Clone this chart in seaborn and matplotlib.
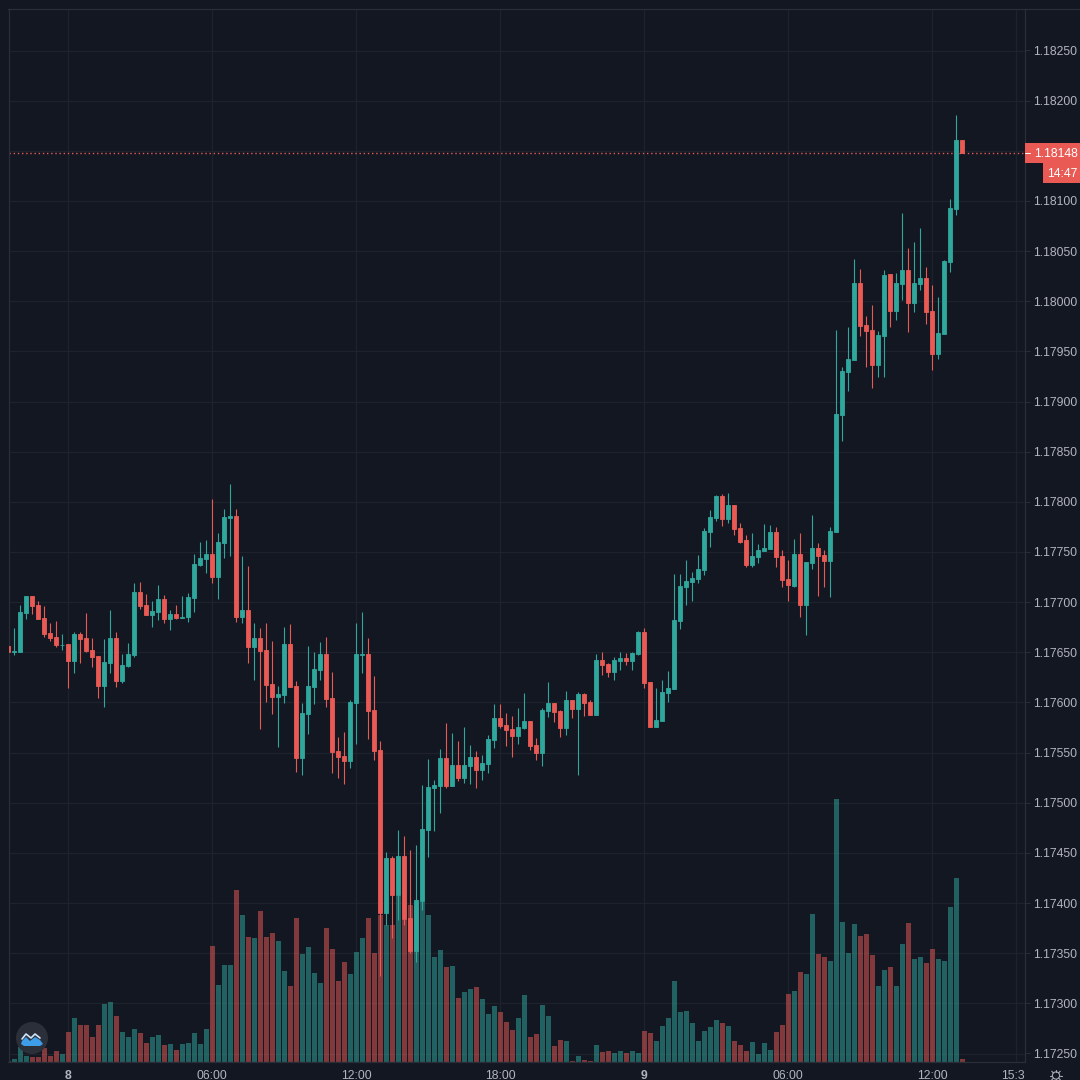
import numpy as np
import pandas as pd
import seaborn as sns
import matplotlib
matplotlib.use("Agg")
import matplotlib.pyplot as plt
from matplotlib.patches import Rectangle, Circle, Polygon
from matplotlib.transforms import blended_transform_factory, Bbox

# prices in 1e-5 units (pipettes), 15-minute candles, index 0 = day 8 00:00
first_candle = -10
opens = [
 117656,117650,117650,117689,117706,117697,117684,117669,117665,117657,
 117658,117641,117668,117664,117652,117646,117616,117639,117664,117621,
 117636,117647,117710,117697,117687,117690,117703,117683,117688,117684,
 117685,117704,117737,117743,117748,117725,117759,117784,117786,117685,
 117692,117655,117664,117652,117618,117605,117607,117658,117616,117545,
 117588,117615,117632,117648,117604,117552,117547,117542,117599,117647,
 117648,117592,117553,117390,117445,117408,117447,117385,117352,117402,
 117473,117515,117517,117545,117517,117538,117525,117537,117546,117533,
 117539,117563,117584,117578,117574,117567,117575,117582,117558,117550,
 117591,117599,117591,117575,117602,117593,117608,117600,117587,117642,
 117638,117630,117641,117644,117641,117648,117670,117620,117576,117582,
 117609,117613,117681,117715,117720,117723,117732,117770,117784,117806,
 117783,117797,117774,117762,117737,117745,117751,117753,117770,117746,
 117723,117716,117748,117697,117739,117754,117747,117741,117770,117887,
 117929,117941,118018,117976,117971,117936,117965,118027,117990,118017,
 118031,117998,118017,118023,117990,117947,117967,118039,118092,118161]
closes = [
 117650,117651,117690,117706,117696,117683,117668,117664,117657,117657,
 117641,117668,117663,117651,117645,117616,117640,117664,117621,117637,
 117648,117710,117696,117687,117691,117703,117683,117688,117684,117685,
 117705,117738,117744,117748,117725,117760,117785,117786,117685,117692,
 117655,117664,117651,117617,117605,117608,117658,117615,117545,117589,
 117616,117633,117648,117603,117551,117546,117542,117600,117648,117648,
 117591,117552,117390,117445,117408,117447,117384,117352,117403,117474,
 117516,117518,117545,117517,117538,117525,117538,117546,117533,117540,
 117564,117584,117577,117573,117567,117576,117582,117557,117550,117592,
 117599,117590,117575,117602,117593,117608,117599,117587,117642,117637,
 117630,117642,117644,117641,117649,117670,117619,117576,117583,117610,
 117614,117682,117716,117721,117724,117733,117771,117785,117806,117783,
 117797,117773,117760,117737,117746,117752,117754,117770,117745,117722,
 117717,117748,117697,117740,117754,117746,117741,117771,117888,117930,
 117942,118018,117975,117970,117936,117966,118026,117990,118018,118031,
 117998,118018,118023,117989,117947,117968,118040,118093,118161,118148]
highs = [
 117656,117674,117697,117706,117706,117701,117696,117679,117681,117668,
 117658,117670,117670,117689,117664,117646,117663,117692,117670,117648,
 117659,117719,117720,117708,117701,117717,117707,117692,117697,117706,
 117709,117748,117760,117762,117803,117769,117793,117818,117793,117746,
 117736,117679,117674,117679,117661,117616,117675,117678,117621,117599,
 117656,117650,117660,117665,117630,117566,117571,117602,117679,117690,
 117664,117626,117562,117451,117447,117473,117467,117453,117458,117518,
 117544,117523,117554,117580,117570,117562,117576,117558,117552,117548,
 117568,117598,117598,117589,117586,117594,117609,117582,117565,117594,
 117620,117599,117592,117611,117602,117610,117609,117602,117648,117650,
 117639,117645,117650,117649,117650,117671,117674,117620,117614,117622,
 117631,117728,117728,117742,117730,117747,117774,117792,117807,117808,
 117809,117797,117779,117767,117769,117758,117778,117777,117775,117752,
 117742,117763,117769,117740,117787,117759,117752,117775,117971,117934,
 117974,118042,118032,117985,117996,117970,118031,118027,118028,118088,
 118053,118059,118073,118034,118016,118004,118041,118102,118186,118161]
lows = [
 117650,117647,117650,117683,117688,117683,117665,117661,117655,117652,
 117614,117629,117639,117650,117635,117604,117595,117629,117615,117619,
 117635,117645,117693,117687,117675,117682,117679,117672,117683,117684,
 117680,117690,117736,117729,117719,117703,117744,117746,117680,117679,
 117639,117622,117574,117600,117588,117556,117599,117615,117531,117528,
 117569,117598,117622,117595,117530,117525,117519,117535,117559,117629,
 117564,117543,117327,117378,117365,117383,117378,117350,117341,117393,
 117446,117472,117490,117515,117517,117522,117520,117519,117515,117523,
 117530,117555,117575,117557,117546,117559,117574,117553,117543,117537,
 117585,117581,117566,117568,117584,117528,117586,117587,117587,117627,
 117625,117622,117632,117637,117632,117647,117614,117576,117576,117582,
 117600,117613,117673,117697,117701,117719,117727,117755,117781,117776,
 117779,117767,117759,117735,117735,117739,117751,117753,117735,117715,
 117701,117715,117685,117667,117733,117706,117715,117705,117770,117861,
 117911,117941,117965,117934,117914,117924,117924,117974,117981,118001,
 117969,117989,118011,117977,117931,117942,117967,118029,118086,118148]
volumes = [
 1,3,15,6,5,5,14,6,11,8,
 30,44,37,37,25,37,58,60,46,30,
 25,33,29,19,25,27,17,18,12,18,
 19,29,18,33,116,77,97,97,172,147,
 125,124,151,125,129,121,91,76,144,108,
 115,89,79,134,113,81,100,88,110,124,
 144,109,147,137,137,166,142,157,155,160,
 147,105,112,95,96,64,70,73,75,63,
 48,56,50,40,32,44,67,25,28,57,
 46,16,22,21,1,6,2,1,17,10,
 11,9,11,9,11,9,31,29,21,36,
 44,81,50,51,39,21,31,35,42,39,
 36,21,17,11,20,8,19,12,30,37,
 68,71,90,88,148,108,105,101,263,140,
 109,138,126,128,107,76,92,95,76,118,
 139,103,105,99,113,103,101,155,184,3]

price_ticks = [1.1725, 1.1730, 1.1735, 1.1740, 1.1745, 1.1750, 1.1755, 1.1760, 1.1765,
               1.1770, 1.1775, 1.1780, 1.1785, 1.1790, 1.1795, 1.1800, 1.1805, 1.1810,
               1.1815, 1.1820, 1.1825]
time_ticks = [0, 24, 48, 72, 96, 120, 144, 158]
time_labels = ['8', '06:00', '12:00', '18:00', '9', '06:00', '12:00', '15:30']
bold_labels = ['8', '9']
clipped_label = '15:30'
last_price = 1.18148
countdown = '14:47'

BG = '#131722'
GRID = '#1e222d'
BORDER = '#2a2e39'
UP = '#2fa79c'
DOWN = '#ea5a55'
TXT = '#b2b5be'
W, H = 1080, 1080
AX_L, AX_R, AX_T, AX_B = 8.5, 1025.0, 9.0, 1061.5

sns.set_theme(style='darkgrid', rc={
    'figure.facecolor': BG, 'axes.facecolor': BG, 'grid.color': GRID,
    'axes.edgecolor': BORDER, 'text.color': TXT, 'xtick.color': TXT, 'ytick.color': TXT})
plt.rcParams['font.family'] = ['Liberation Sans', 'DejaVu Sans']

df = pd.DataFrame({
    'candle': np.arange(first_candle, first_candle + len(opens)),
    'open': np.array(opens) / 1e5, 'high': np.array(highs) / 1e5,
    'low': np.array(lows) / 1e5, 'close': np.array(closes) / 1e5,
    'volume': volumes})
df['side'] = np.where(df['close'] >= df['open'], 'up', 'down')
df['colour'] = df['side'].map({'up': UP, 'down': DOWN})

fig = plt.figure(figsize=(W / 100, H / 100), dpi=100, facecolor=BG)
rect = [AX_L / W, 1 - AX_B / H, (AX_R - AX_L) / W, (AX_B - AX_T) / H]

# volume pane underneath
axv = fig.add_axes(rect, zorder=1)
axv.set_facecolor(BG)
xlim = (first_candle + 0.03, first_candle + (AX_R - AX_L) / 6 + 0.03)
sns.barplot(data=df, x='candle', y='volume', hue='side', hue_order=['up', 'down'],
            palette={'up': UP, 'down': DOWN}, native_scale=True, dodge=False, width=0.8,
            errorbar=None, saturation=1, alpha=0.52, legend=False, linewidth=0, zorder=2, ax=axv)
axv.set_xlim(*xlim)
axv.set_ylim(0, AX_B - AX_T)
axv.set_xticks(time_ticks)
axv.set_yticks([])
axv.set_xlabel('')
axv.set_ylabel('')
axv.grid(False)
axv.set_xticklabels([])
axv.tick_params(axis='x', length=0)
for s in axv.spines.values():
    s.set_visible(False)

# price pane on top
ax = fig.add_axes(rect, zorder=2)
ax.patch.set_alpha(0)
ax.set_xlim(*xlim)
p_per_px = 1 / 100300
ax.set_ylim(1.1825 - (AX_B - 50.5) * p_per_px, 1.1825 + (50.5 - AX_T) * p_per_px)
ax.yaxis.tick_right()
ax.set_yticks(price_ticks)
ax.set_yticklabels([f'{p:.5f}' for p in price_ticks], fontsize=8.8, color=TXT)
ax.tick_params(axis='y', length=3.5, width=0.7, color=BORDER, pad=2.2)
ax.set_xticks(time_ticks)
ax.set_xticklabels(time_labels, fontsize=8.8, color=TXT)
ax.tick_params(axis='x', length=0, pad=6.2)
fig.canvas.draw()
for lab in ax.get_xticklabels():
    if lab.get_text() in bold_labels:
        lab.set_fontweight('bold')
    if lab.get_text() == clipped_label:
        lab.set_clip_on(True)
        lab.set_clip_box(Bbox.from_extents(0, 0, AX_R, H))
ax.grid(False)
for s in ['top', 'left', 'right', 'bottom']:
    ax.spines[s].set_color(BORDER)
    ax.spines[s].set_linewidth(0.9)

# grid goes behind the volume bars
for p in price_ticks:
    axv.axhline((1.1825 - p) * -100300 + (AX_B - 50.5), color=GRID, lw=0.9, zorder=0)
for t in time_ticks:
    axv.axvline(t, color=GRID, lw=0.9, zorder=0)

# candles
ax.vlines(df['candle'], df['low'], df['high'], colors=df['colour'], linewidth=0.8, zorder=3)
ax.bar(df['candle'], (df['close'] - df['open']).abs(), bottom=df[['open', 'close']].min(axis=1),
       width=0.72, color=df['colour'], edgecolor=df['colour'], linewidth=0.6, zorder=4)

# last-price line and tags
ax.axhline(last_price, color=DOWN, lw=1.0, ls=(0, (1, 2)), zorder=2)
tr = blended_transform_factory(ax.transAxes, ax.transData)
tag_w = (W - AX_R) / (AX_R - AX_L)
tag_h = 19.5 * p_per_px
ax.add_patch(Rectangle((1, last_price - tag_h / 2), tag_w, tag_h, transform=tr, color=DOWN,
                       clip_on=False, lw=0, zorder=6))
ax.plot([1, 1 + 5 / (AX_R - AX_L)], [last_price, last_price], transform=tr, color='white', lw=0.7,
        clip_on=False, zorder=7)
ax.text(1 + 9 / (AX_R - AX_L), last_price - 1.5 * p_per_px, f'{last_price:.5f}', transform=tr,
        color='white', fontsize=8.8, va='center', ha='left', clip_on=False, zorder=7)
ax.add_patch(Rectangle((1 + 18 / (AX_R - AX_L), last_price - tag_h * 1.53), 37 / (AX_R - AX_L), tag_h,
                       transform=tr, color=DOWN, clip_on=False, lw=0, zorder=6))
ax.text(1 + 22 / (AX_R - AX_L), last_price - tag_h * 1.03 - 1.0 * p_per_px, countdown, transform=tr,
        color='white', fontsize=8.8, va='center', ha='left', clip_on=False, zorder=7)

# chrome: outer border, logo and settings icon drawn in pixel space
ov = fig.add_axes([0, 0, 1, 1], zorder=5)
ov.set_xlim(0, W)
ov.set_ylim(H, 0)
ov.axis('off')
ov.plot([AX_R, W], [AX_T, AX_T], color=BORDER, lw=0.9)
ov.add_patch(Circle((32, 1038), 16, color='#2b2f3a', ec='none'))
ov.add_patch(Polygon([(22, 1041), (26, 1037), (30, 1041), (35, 1037), (40, 1040), (43, 1044),
                      (40, 1046), (24, 1046), (21, 1044)], closed=True, color='#3d9de8', lw=0))
ov.plot([22, 26, 31, 35, 40], [1039, 1034, 1038, 1034, 1038], color='#cfe6fa', lw=1.2)
ov.add_patch(Circle((1056, 1075.5), 3.6, fill=False, ec='#a9acb5', lw=0.8))
for a in np.linspace(0, 2 * np.pi, 8, endpoint=False):
    ov.plot([1056 + 3.6 * np.cos(a), 1056 + 6 * np.cos(a)],
            [1075.5 + 3.6 * np.sin(a), 1075.5 + 6 * np.sin(a)], color='#a9acb5', lw=0.8)

fig.savefig('out.png', dpi=100, facecolor=BG)
